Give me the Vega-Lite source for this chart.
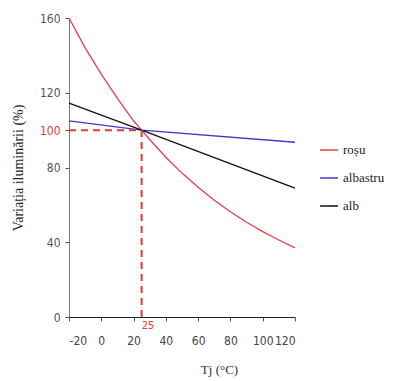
{
  "$schema": "https://vega.github.io/schema/vega-lite/v6.json",
  "width": 226,
  "height": 299,
  "autosize": "none",
  "padding": {"left": 69, "top": 18, "right": 109, "bottom": 64},
  "background": "white",
  "config": {
    "view": {"stroke": null},
    "axis": {"grid": false}
  },
  "encoding": {
    "x": {
      "field": "T", "type": "quantitative",
      "scale": {"domain": [-20, 120], "nice": false, "zero": false},
      "axis": {
        "values": [-20, 0, 20, 40, 60, 80, 100, 120],
        "labelExpr": "replace(datum.label, '−', '-')",
        "labelOverlap": false,
        "labelSeparation": 0,
        "labelBound": false,
        "title": "Tj (°C)",
        "titleFont": "Liberation Serif",
        "titleFontSize": 13,
        "titleFontWeight": "normal",
        "titleColor": "#333",
        "titleX": 150,
        "titleY": 46,
        "titleAlign": "center",
        "domainColor": "#222",
        "tickColor": "#555",
        "tickSize": 4,
        "labelFont": "DejaVu Sans Condensed",
        "labelFontSize": 12,
        "labelColor": "#444",
        "labelPadding": 14
      }
    },
    "y": {
      "field": "v", "type": "quantitative",
      "scale": {"domain": [0, 160], "nice": false},
      "axis": {
        "values": [0, 40, 80, 100, 120, 160],
        "labelOverlap": false,
        "title": "Variația iluminării (%)",
        "titleFont": "Liberation Serif",
        "titleFontSize": 14,
        "titleFontWeight": "normal",
        "titleColor": "#222",
        "titlePadding": 14,
        "domainColor": "#777",
        "tickColor": "#555",
        "tickSize": 4,
        "labelFont": "DejaVu Sans Condensed",
        "labelFontSize": 12,
        "labelColor": {"condition": {"test": "datum.value == 100", "value": "#e53935"}, "value": "#555"},
        "labelPadding": 5
      }
    }
  },
  "layer": [
    {
      "data": {
        "values": [
          {"T": -20, "v": 160, "s": "roșu"},
          {"T": -10, "v": 144, "s": "roșu"},
          {"T": 0, "v": 130, "s": "roșu"},
          {"T": 10, "v": 117, "s": "roșu"},
          {"T": 20, "v": 105, "s": "roșu"},
          {"T": 25, "v": 100, "s": "roșu"},
          {"T": 30, "v": 95, "s": "roșu"},
          {"T": 40, "v": 85.5, "s": "roșu"},
          {"T": 50, "v": 77, "s": "roșu"},
          {"T": 60, "v": 69.4, "s": "roșu"},
          {"T": 70, "v": 62.5, "s": "roșu"},
          {"T": 80, "v": 56.3, "s": "roșu"},
          {"T": 90, "v": 50.7, "s": "roșu"},
          {"T": 100, "v": 45.7, "s": "roșu"},
          {"T": 110, "v": 41.2, "s": "roșu"},
          {"T": 120, "v": 37, "s": "roșu"},
          {"T": -20, "v": 105, "s": "albastru"},
          {"T": 25, "v": 100, "s": "albastru"},
          {"T": 120, "v": 93.5, "s": "albastru"},
          {"T": -20, "v": 114.5, "s": "alb"},
          {"T": 25, "v": 100, "s": "alb"},
          {"T": 120, "v": 69, "s": "alb"}
        ]
      },
      "mark": {"type": "line", "strokeWidth": 1.3},
      "encoding": {
        "color": {
          "field": "s", "type": "nominal",
          "scale": {"domain": ["roșu", "albastru", "alb"], "range": ["#ec3d46", "#3a3ad4", "#111111"]},
          "legend": {
            "title": null,
            "orient": "none",
            "legendX": 250,
            "legendY": 122,
            "symbolType": "stroke",
            "symbolSize": 320,
            "symbolStrokeWidth": 1.5,
            "labelFont": "Liberation Serif",
            "labelFontSize": 13,
            "labelColor": "#222",
            "rowPadding": 11
          }
        }
      }
    },
    {
      "data": {"values": [{"T": -20, "T2": 25, "v": 100}]},
      "mark": {"type": "rule", "color": "#e53935", "strokeWidth": 2, "strokeDash": [7, 5]},
      "encoding": {
        "x2": {"field": "T2"}
      }
    },
    {
      "data": {"values": [{"T": 25, "v": 0, "v2": 100}]},
      "mark": {"type": "rule", "color": "#e53935", "strokeWidth": 2, "strokeDash": [7, 5]},
      "encoding": {
        "y2": {"field": "v2"}
      }
    },
    {
      "data": {"values": [{"T": 25, "v": 0, "t": "25"}]},
      "mark": {"type": "text", "color": "#e53935", "font": "DejaVu Sans Condensed", "fontSize": 11, "baseline": "top", "align": "left", "dx": 0, "dy": 3},
      "encoding": {
        "text": {"field": "t"}
      }
    }
  ]
}
